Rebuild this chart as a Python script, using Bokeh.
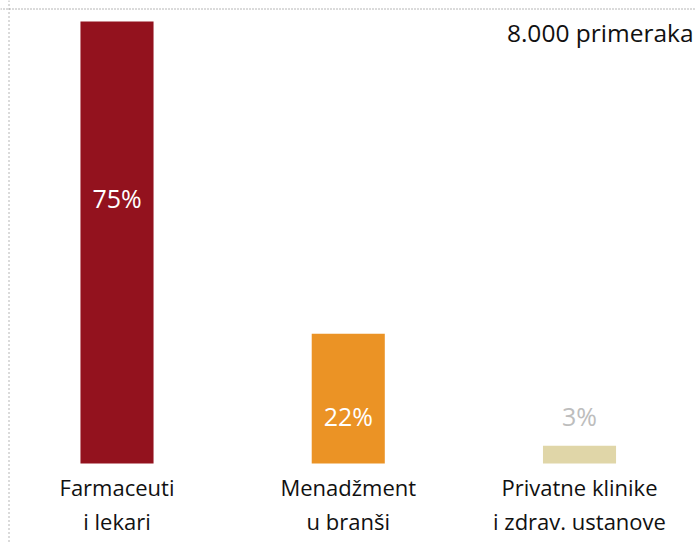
from bokeh.plotting import figure
from bokeh.models import ColumnDataSource, Range1d, Span, Label
from bokeh.core.properties import value
from bokeh.embed import file_html
from bokeh.resources import INLINE

# ---- data ----
categories = ["Farmaceuti\ni lekari", "Menadžment\nu branši", "Privatne klinike\ni zdrav. ustanove"]
shares = [75, 22, 3]
value_labels = ["75%", "22%", "3%"]
bar_colors = ["#93121E", "#EB9325", "#E0D6A8"]
note = "8.000 primeraka"

# ---- layout ----
W, H = 696, 542
FONT = "Open Sans"

x_start, x_end = -0.5038, 2.5059
y_start, y_end = -13.405, 78.563

p = figure(width=W, height=H, output_backend="svg", toolbar_location=None,
           x_range=Range1d(x_start, x_end), y_range=Range1d(y_start, y_end),
           x_axis_type=None, y_axis_type=None,
           min_border=0, min_border_left=0, min_border_right=0,
           min_border_top=0, min_border_bottom=0)
p.outline_line_color = None
p.xgrid.visible = False
p.ygrid.visible = False
p.background_fill_color = "white"
p.border_fill_color = "white"

xs = list(range(len(shares)))
src = ColumnDataSource(dict(
    x=xs, top=shares, color=bar_colors, cat=categories, lbl=value_labels,
    lbl_y=[v * 0.6 if v >= 50 else 8.0 for v in shares],
    lbl_color=["white" if v > 10 else "#BDBDBD" for v in shares],
))

p.vbar(x="x", top="top", bottom=0, width=0.316, color="color", line_color=None, source=src)

p.text(x="x", y="lbl_y", text="lbl", source=src, text_color="lbl_color",
       text_font=value(FONT), text_font_size="25px",
       text_align="center", text_baseline="middle")

p.text(x="x", y=-1.5, text="cat", source=src, text_color="#111111",
       text_font=value(FONT), text_font_size="22px", text_line_height=1.12,
       text_align="center", text_baseline="top")

# dotted frame lines (top and left only)
px_x = (x_end - x_start) / W
px_y = (y_end - y_start) / H
p.add_layout(Span(location=x_start + 8.5 * px_x, dimension="height",
                  line_color="#6e6e6e", line_width=1, line_dash="1 3"))
p.add_layout(Span(location=y_end - 8.5 * px_y, dimension="width",
                  line_color="#6e6e6e", line_width=1, line_dash="1 2"))

p.add_layout(Label(x=W - 3, y=H - 32, x_units="screen", y_units="screen",
                   text=note, text_font=FONT, text_font_size="24.5px",
                   text_color="#111111", text_align="right",
                   text_baseline="alphabetic"))

open("out.html", "w").write(file_html(p, INLINE))
